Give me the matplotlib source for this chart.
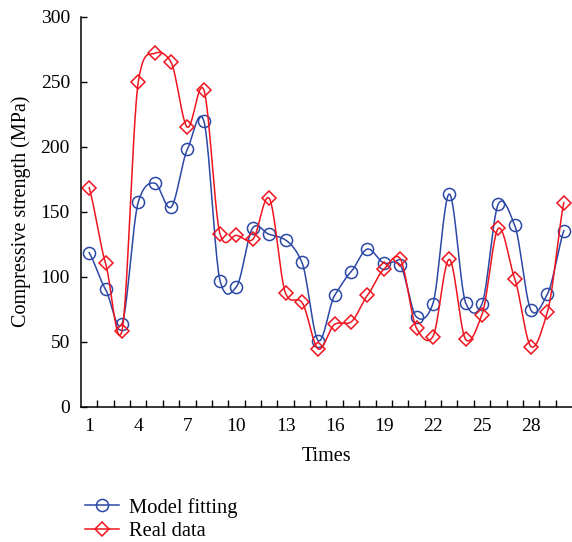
import numpy as np
import matplotlib
matplotlib.use("Agg")
import matplotlib.pyplot as plt

# data
times = np.arange(1, 31)
model_fitting = [118.5, 90.3, 63.6, 157.5, 172.0, 153.4, 198.0, 220.0, 96.7, 92.3,
                 137.7, 132.6, 128.2, 111.0, 50.8, 85.7, 103.8, 121.3, 110.5, 109.0,
                 69.0, 79.2, 163.6, 80.0, 79.0, 156.0, 139.5, 74.1, 86.7, 135.4]
real_data = [168.5, 110.3, 58.2, 249.8, 271.8, 265.0, 215.0, 243.9, 132.6, 131.8,
             128.7, 160.3, 87.2, 80.3, 44.4, 63.4, 65.2, 85.7, 105.7, 113.9,
             60.3, 53.9, 113.4, 51.8, 70.8, 137.2, 98.5, 46.2, 73.1, 157.0]
x_labels = [1, 4, 7, 10, 13, 16, 19, 22, 25, 28]

blue = '#2b48a6'
red = '#f0141e'

plt.rcParams['font.family'] = ['Liberation Serif', 'DejaVu Serif']


# cardinal spline (hermite) so the lines look like the smooth connect in the original
def smooth(x, y, k=0.75, n=24):
    x = np.asarray(x, float)
    y = np.asarray(y, float)
    m = np.gradient(y, x) * k
    xs, ys = [], []
    t = np.linspace(0, 1, n, endpoint=False)
    h00 = 2 * t ** 3 - 3 * t ** 2 + 1
    h10 = t ** 3 - 2 * t ** 2 + t
    h01 = -2 * t ** 3 + 3 * t ** 2
    h11 = t ** 3 - t ** 2
    for i in range(len(x) - 1):
        d = x[i + 1] - x[i]
        xs.append(x[i] + t * d)
        ys.append(h00 * y[i] + h10 * d * m[i] + h01 * y[i + 1] + h11 * d * m[i + 1])
    xs.append([x[-1]])
    ys.append([y[-1]])
    return np.concatenate(xs), np.concatenate(ys)


fig = plt.figure(figsize=(5.72, 5.42), dpi=100)
ax = fig.add_axes([0.1416, 0.2496, 0.8584, 0.7196])

sx, sy = smooth(times, model_fitting)
ax.plot(sx, sy, color=blue, lw=1.1)
ax.plot(times, model_fitting, 'o', color=blue, mfc='none', ms=8.7, mew=1.1)
sx, sy = smooth(times, real_data)
ax.plot(sx, sy, color=red, lw=1.1)
ax.plot(times, real_data, 'D', color=red, mfc='none', ms=7, mew=1.1)

ax.set_xlim(0.5, 30.5)
ax.set_ylim(0, 300)
ax.set_xticks(x_labels)
ax.set_xticks(np.arange(1.5, 30, 1), minor=True)
ax.set_yticks(np.arange(0, 301, 50))
ax.tick_params(axis='x', which='major', length=0, labelsize=14, pad=8)
ax.tick_params(axis='x', which='minor', direction='in', length=5, width=1)
ax.tick_params(axis='y', direction='in', length=4, width=1, labelsize=14, pad=8)
for s in ['top', 'right']:
    ax.spines[s].set_visible(False)
for s in ['left', 'bottom']:
    ax.spines[s].set_linewidth(1.1)

ax.set_xlabel('Times', fontsize=14.5, labelpad=9)
ax.set_ylabel('Compressive strength (MPa)', fontsize=14.5, labelpad=7)

h1, = ax.plot([], [], '-o', color=blue, mfc='none', ms=8.7, mew=1.1, lw=1.1)
h2, = ax.plot([], [], '-D', color=red, mfc='none', ms=7, mew=1.1, lw=1.1)
fig.legend([h1, h2], ['Model fitting', 'Real data'], loc='upper left',
           bbox_to_anchor=(0.135, 0.097), frameon=False, fontsize=14.8,
           handlelength=1.65, handletextpad=0.45, labelspacing=0.2, borderaxespad=0)

fig.savefig('out.png', dpi=100)
